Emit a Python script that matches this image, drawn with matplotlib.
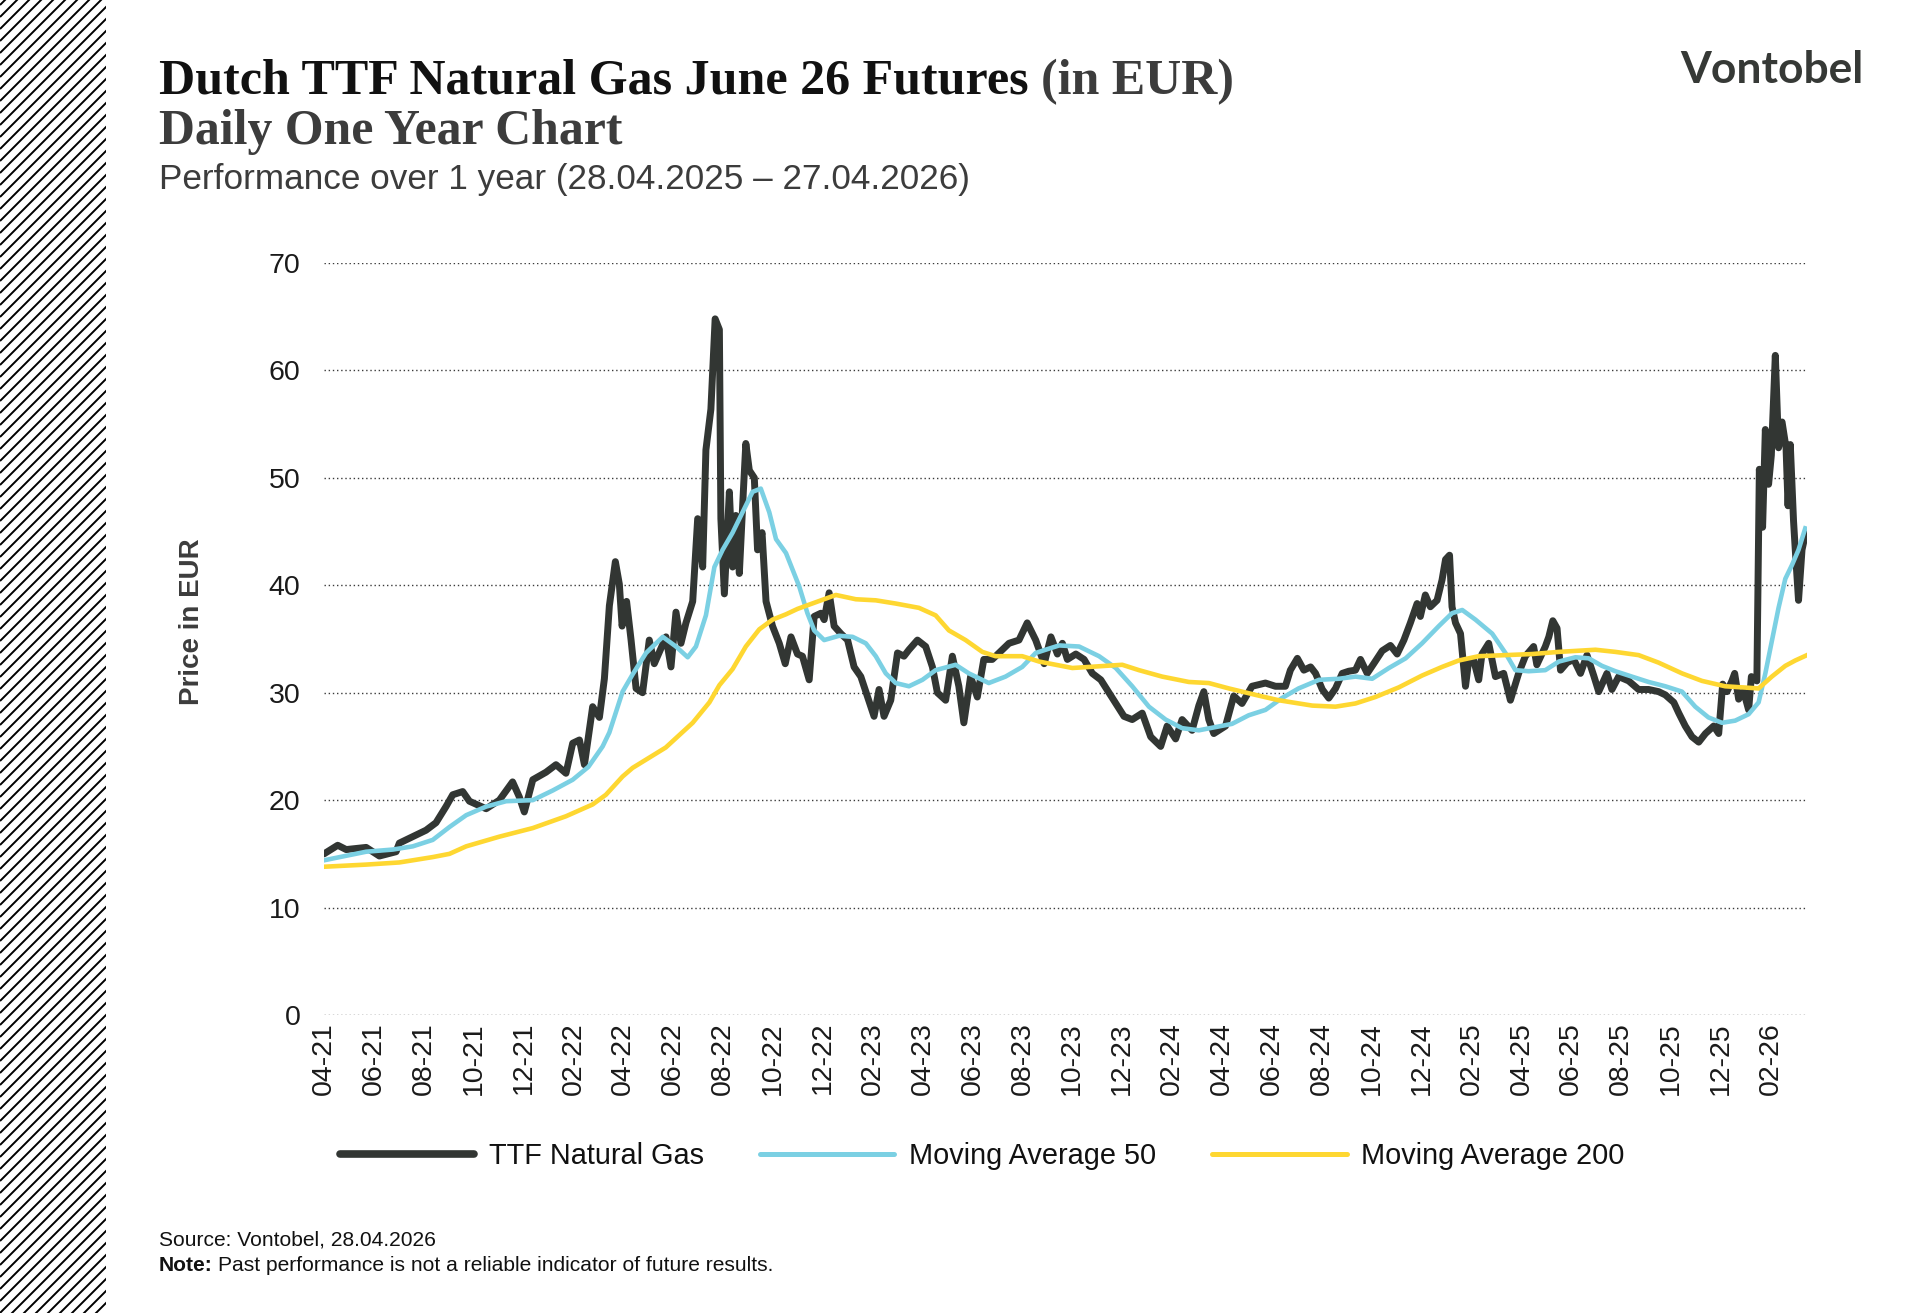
import numpy as np
import matplotlib.pyplot as plt
from matplotlib.lines import Line2D

# Canvas (pixels) and palette
W, H, DPI = 1920, 1313, 100
CHARCOAL = '#323633'
SKY = '#7bd0e3'
SUN = '#fed731'
GREY_TEXT = '#3c3c3c'
GRID = '#3a3a3a'

# x axis: months since April 2021, one label every two months
tick_pos = list(range(0, 59, 2))
tick_labels = ['04-21', '06-21', '08-21', '10-21', '12-21',
               '02-22', '04-22', '06-22', '08-22', '10-22', '12-22',
               '02-23', '04-23', '06-23', '08-23', '10-23', '12-23',
               '02-24', '04-24', '06-24', '08-24', '10-24', '12-24',
               '02-25', '04-25', '06-25', '08-25', '10-25', '12-25',
               '02-26']

# TTF front price (EUR)
ttf_month = [0.0, 0.55, 0.89, 1.69, 2.22, 2.89, 3.02, 3.56, 4.09, 4.49, 4.89, 5.16, 5.56, 5.83,
             6.5, 7.03, 7.56, 7.83, 8.03, 8.37, 8.9, 9.3, 9.7, 9.97, 10.24, 10.44, 10.77, 11.04,
             11.24, 11.44, 11.68, 11.84, 11.95, 12.13, 12.31, 12.51, 12.77, 13.04, 13.24, 13.71,
             13.91, 14.11, 14.31, 14.51, 14.78, 14.98, 15.18, 15.31, 15.51, 15.68, 15.85, 15.91,
             16.05, 16.25, 16.38, 16.51, 16.65, 16.81, 16.91, 17.05, 17.25, 17.38, 17.56, 17.72,
             17.98, 18.25, 18.49, 18.72, 18.98, 19.18, 19.45, 19.65, 19.92, 20.05, 20.25, 20.45,
             20.72, 20.99, 21.25, 21.52, 21.79, 22.05, 22.25, 22.45, 22.72, 22.99, 23.25, 23.45,
             23.79, 24.12, 24.39, 24.59, 24.92, 25.19, 25.45, 25.65, 25.92, 26.19, 26.45, 26.79,
             27.19, 27.46, 27.86, 28.19, 28.53, 28.87, 29.14, 29.4, 29.6, 29.8, 30.14, 30.47,
             30.8, 31.14, 31.47, 31.8, 32.07, 32.4, 32.8, 33.14, 33.54, 33.8, 34.14, 34.4, 34.8,
             35.07, 35.27, 35.47, 35.67, 36.14, 36.47, 36.8, 37.2, 37.74, 38.14, 38.54, 38.74,
             39.02, 39.28, 39.55, 39.75, 40.02, 40.28, 40.55, 40.82, 41.08, 41.35, 41.55, 41.82,
             42.08, 42.42, 42.75, 43.02, 43.29, 43.55, 43.82, 43.95, 44.15, 44.35, 44.62, 44.82,
             44.96, 45.12, 45.22, 45.36, 45.56, 45.76, 45.89, 46.09, 46.29, 46.42, 46.69, 46.96,
             47.29, 47.56, 47.89, 48.16, 48.49, 48.62, 48.96, 49.1, 49.26, 49.43, 49.57, 49.83,
             50.1, 50.37, 50.63, 50.9, 51.1, 51.43, 51.63, 51.9, 52.3, 52.7, 53.1, 53.5, 53.77,
             54.11, 54.31, 54.57, 54.84, 55.11, 55.38, 55.71, 55.91, 56.07, 56.24, 56.44, 56.55,
             56.71, 56.91, 57.11, 57.22, 57.44, 57.54, 57.67, 57.78, 57.91, 58.02, 58.18, 58.31,
             58.45, 58.61, 58.69, 58.78, 58.91, 58.98, 59.11, 59.25, 59.38, 59.45]
ttf_price = [15.0, 15.8, 15.4, 15.6, 14.8, 15.2, 16.0, 16.6, 17.2, 17.9, 19.4, 20.5, 20.8, 19.9,
             19.2, 20.0, 21.7, 20.3, 18.9, 21.9, 22.6, 23.3, 22.5, 25.3, 25.6, 23.3, 28.7, 27.7,
             31.3, 38.1, 42.2, 40.1, 36.2, 38.5, 34.9, 30.4, 30.0, 34.9, 32.7, 35.2,
             32.4, 37.5, 34.6, 36.5, 38.5, 46.2, 41.7, 52.6, 56.4, 64.8, 63.8, 46.2,
             39.2, 48.7, 41.7, 46.5, 41.1, 48.7, 53.2, 50.7, 50.0, 43.3, 44.9, 38.5,
             36.2, 34.6, 32.7, 35.2, 33.6, 33.4, 31.2, 37.1, 37.4, 36.8, 39.3, 36.2,
             35.5, 34.9, 32.4, 31.5, 29.6, 27.8, 30.3, 27.8, 29.3, 33.7, 33.4, 34.0,
             34.9, 34.3, 32.4, 30.0, 29.3, 33.4, 30.6, 27.2, 31.5, 29.6, 33.1, 33.1,
             34.0, 34.6, 34.9, 36.5, 34.9, 32.7, 35.2, 33.6, 34.6, 33.1, 33.6, 33.1,
             31.8, 31.2, 30.0, 28.8, 27.8, 27.5, 28.1, 25.9, 25.0, 26.9, 25.7, 27.5, 26.5,
             28.8, 30.1, 27.5, 26.2, 26.9, 29.7, 29.0, 30.6, 30.9, 30.6, 30.6, 32.1,
             33.2, 32.1, 32.4, 31.8, 30.3, 29.5, 30.4, 31.8, 32.0, 32.1, 33.1, 31.8,
             32.7, 33.9, 34.4, 33.6, 34.9, 36.5, 38.3, 37.1, 39.1, 38.0, 38.6, 40.5,
             42.4, 42.8, 38.0, 36.5, 35.5, 30.6, 33.0, 33.0, 31.2, 33.6, 34.6, 31.5,
             31.8, 29.3, 31.8, 33.4, 34.3, 32.6, 34.3, 35.2, 36.7, 36.0, 32.1, 32.8,
             33.1, 31.8, 33.5, 31.6, 30.1, 31.8, 30.3, 31.5, 31.1, 30.3, 30.3, 30.1, 29.8,
             29.1, 28.1, 26.9, 25.9, 25.4, 26.2, 26.9, 26.2, 30.8, 30.1, 31.1, 31.8,
             29.4, 30.1, 28.4, 31.5, 31.1, 50.8, 45.4, 54.5, 49.4, 52.1, 61.4, 52.8,
             55.2, 52.8, 47.4, 53.1, 46.0, 43.3, 38.6, 43.3, 44.7, 44.8]

# 50-day moving average
ma50_month = [0.0, 1.69, 2.76, 3.56, 4.36, 5.03, 5.7, 6.5, 7.3, 8.37, 9.17, 9.97, 10.6, 11.17,
              11.44, 11.97, 12.37, 12.91, 13.58, 14.11, 14.58, 14.91, 15.31, 15.65, 15.98, 16.38,
              16.78, 17.18, 17.51, 17.85, 18.12, 18.52, 19.05, 19.38, 19.65, 20.05, 20.65, 21.19,
              21.72, 22.12, 22.52, 22.92, 23.45, 23.99, 24.52, 25.32, 25.85, 26.65, 27.32, 27.99,
              28.53, 29.06, 29.47, 30.27, 31.07, 31.74, 32.4, 33.07, 33.74, 34.4, 35.07, 35.74,
              36.4, 37.07, 37.74, 38.4, 39.07, 39.89, 40.69, 41.35, 42.02, 42.69, 43.36, 44.02,
              44.69, 45.22, 45.63, 46.16, 46.83, 47.36, 47.76, 48.29, 48.96, 49.5, 50.17, 50.7,
              51.23, 51.77, 52.43, 53.1, 53.77, 54.44, 54.97, 55.5, 56.04, 56.57, 57.11, 57.51,
              57.78, 58.04, 58.31, 58.58, 58.85, 59.11, 59.38]
ma50_price = [14.4, 15.2, 15.4, 15.7, 16.3, 17.5, 18.6, 19.4, 19.9, 20.0, 20.9, 21.9, 23.1, 25.0,
              26.3, 30.1, 31.7, 33.7, 35.2, 34.3, 33.3, 34.3, 37.2, 41.7, 43.3, 44.9,
              46.8, 48.7, 49.0, 46.8, 44.3, 43.0, 39.9, 37.4, 35.8, 34.9, 35.3, 35.2,
              34.6, 33.4, 31.8, 30.9, 30.6, 31.2, 32.1, 32.6, 31.8, 30.9, 31.5, 32.4,
              33.7, 34.1, 34.4, 34.3, 33.4, 32.3, 30.6, 28.7, 27.5, 26.7, 26.5, 26.8,
              27.1, 27.9, 28.4, 29.5, 30.4, 31.2, 31.3, 31.5, 31.3, 32.3, 33.2, 34.6,
              36.2, 37.4, 37.7, 36.8, 35.5, 33.7, 32.1, 32.0, 32.1, 32.9, 33.3, 33.2,
              32.5, 32.0, 31.5, 31.0, 30.6, 30.1, 28.7, 27.7, 27.2, 27.4, 28.0, 29.1,
              31.8, 34.8, 37.9, 40.6, 41.9, 43.3, 45.3]

# 200-day moving average
ma200_month = [0.0, 1.69, 3.02, 4.36, 5.03, 5.7, 7.03, 8.37, 9.7, 10.77, 11.3, 11.97, 12.37,
               13.7, 14.78, 15.45, 15.85, 16.38, 16.91, 17.45, 17.98, 18.52, 18.98, 19.45, 20.52,
               21.32, 22.12, 22.92, 23.85, 24.52, 25.05, 25.72, 26.39, 26.92, 27.99, 28.67, 30.0,
               30.67, 32.0, 32.67, 33.6, 34.67, 35.47, 36.27, 37.34, 38.27, 39.62, 40.55, 41.35,
               42.15, 43.09, 44.02, 44.82, 45.49, 46.29, 47.36, 48.43, 49.5, 50.97, 51.77, 52.7,
               53.5, 54.44, 55.24, 56.17, 56.84, 57.51, 58.04, 58.58, 58.98, 59.45]
ma200_price = [13.8, 14.0, 14.2, 14.7, 15.0, 15.7, 16.6, 17.4, 18.5, 19.6, 20.5, 22.2, 23.0,
               24.9, 27.2, 29.1, 30.7, 32.2, 34.3, 35.9, 36.8, 37.3, 37.8, 38.2, 39.1,
               38.7, 38.6, 38.3, 37.9, 37.2, 35.8, 34.9, 33.8, 33.4, 33.4, 32.9, 32.3,
               32.4, 32.6, 32.1, 31.5, 31.0, 30.9, 30.4, 29.8, 29.3, 28.8, 28.7, 29.0,
               29.6, 30.5, 31.6, 32.4, 33.0, 33.4, 33.5, 33.6, 33.8, 34.0, 33.8, 33.5,
               32.8, 31.8, 31.1, 30.6, 30.5, 30.4, 31.5, 32.5, 33.0, 33.5]

series_labels = ['TTF Natural Gas', 'Moving Average 50', 'Moving Average 200']

fig = plt.figure(figsize=(W / DPI, H / DPI), dpi=DPI, facecolor='white')


def fx(x):
    return x / W


def fy(y):
    return 1 - y / H


def fit(txt, width_px):
    # scale font so the text spans the width measured on the reference
    fig.canvas.draw()
    w = txt.get_window_extent().width
    txt.set_fontsize(txt.get_fontsize() * width_px / w)
    return txt


# --- hatched band on the left ---
hatch = fig.add_axes([0, 0, fx(106), 1])
hatch.set_xlim(0, 106)
hatch.set_ylim(0, H)
hatch.axis('off')
for c in np.arange(-120, H + 12, 12):
    hatch.plot([0, 130], [c, c + 130], color='black', lw=1.4, solid_capstyle='butt')

# --- main chart ---
ax = fig.add_axes([fx(324), fy(1015), fx(1807 - 324), (1015 - 263) / H])
ax.plot(ttf_month, ttf_price, color=CHARCOAL, lw=5.0, solid_joinstyle='round',
        solid_capstyle='round', zorder=3)
ax.plot(ma50_month, ma50_price, color=SKY, lw=3.3, zorder=4)
ax.plot(ma200_month, ma200_price, color=SUN, lw=3.3, zorder=5)

ax.set_xlim(0, 59.45)
ax.set_ylim(0, 70)
ax.set_yticks(range(0, 71, 10))
ax.set_xticks(tick_pos)
ax.set_xticklabels(tick_labels, rotation=90)
ax.tick_params(axis='y', length=0, pad=17, labelsize=20.5, labelcolor='#1a1a1a')
ax.tick_params(axis='x', length=0, pad=5, labelsize=20.5, labelcolor='#1a1a1a')
for lab in ax.get_xticklabels() + ax.get_yticklabels():
    lab.set_family('Liberation Sans')
for s in ax.spines.values():
    s.set_visible(False)
ax.grid(axis='y', color=GRID, linestyle=(0, (1, 2.0)), lw=1.0)
ax.set_axisbelow(True)

fig.text(fx(192), fy(622), 'Price in EUR', rotation=90, ha='center', va='center',
         fontsize=20, fontweight='bold', family='Liberation Sans', color=GREY_TEXT)

# --- legend ---
handles = [Line2D([], [], color=CHARCOAL, lw=5.5, solid_capstyle='round'),
           Line2D([], [], color=SKY, lw=3.6, solid_capstyle='round'),
           Line2D([], [], color=SUN, lw=3.6, solid_capstyle='round')]
leg = fig.legend(handles, series_labels, loc='center left', bbox_to_anchor=(fx(340), fy(1156)),
                 ncol=3, frameon=False, handlelength=4.65, handletextpad=0.5, columnspacing=1.95,
                 borderpad=0, borderaxespad=0,
                 prop={'family': 'Liberation Sans', 'size': 20.8})
for t in leg.get_texts():
    t.set_color('#111111')

# --- header ---
t1 = fig.text(fx(159), fy(94), 'Dutch TTF Natural Gas June 26 Futures', family='Liberation Serif',
              fontweight='bold', fontsize=34, color='#111111', va='baseline')
fit(t1, 870)
fig.canvas.draw()
x_end = t1.get_window_extent().x1
t1b = fig.text(fx(1041), fy(94), '(in EUR)', family='Liberation Serif', fontweight='bold',
               fontsize=t1.get_fontsize(), color=GREY_TEXT, va='baseline')
t1b.set_x((x_end + 12) / W)
t2 = fig.text(fx(159), fy(144), 'Daily One Year Chart', family='Liberation Serif',
              fontweight='bold', fontsize=34, color=GREY_TEXT, va='baseline')
fit(t2, 463)
t3 = fig.text(fx(159), fy(189), 'Performance over 1 year (28.04.2025 \u2013 27.04.2026)',
              family='Liberation Sans', fontsize=24, color=GREY_TEXT, va='baseline')
fit(t3, 812)

logo = fig.text(fx(1864), fy(83), 'Vontobel', family='Lato', fontweight='bold', fontsize=32,
                color='#363936', ha='right', va='baseline')
fit(logo, 183)

# --- footer ---
f1 = fig.text(fx(159), fy(1245), 'Source: Vontobel, 28.04.2026', family='Liberation Sans',
              fontsize=15, color='#111111', va='baseline')
fit(f1, 278)
fs = f1.get_fontsize()
n1 = fig.text(fx(159), fy(1271), 'Note:', family='Liberation Sans', fontweight='bold',
              fontsize=fs, color='#111111', va='baseline')
fig.canvas.draw()
n_end = n1.get_window_extent().x1
fig.text((n_end + 5) / W, fy(1271), 'Past performance is not a reliable indicator of future results.',
         family='Liberation Sans', fontsize=fs, color='#111111', va='baseline')

fig.savefig('out.png', dpi=DPI, facecolor='white')
